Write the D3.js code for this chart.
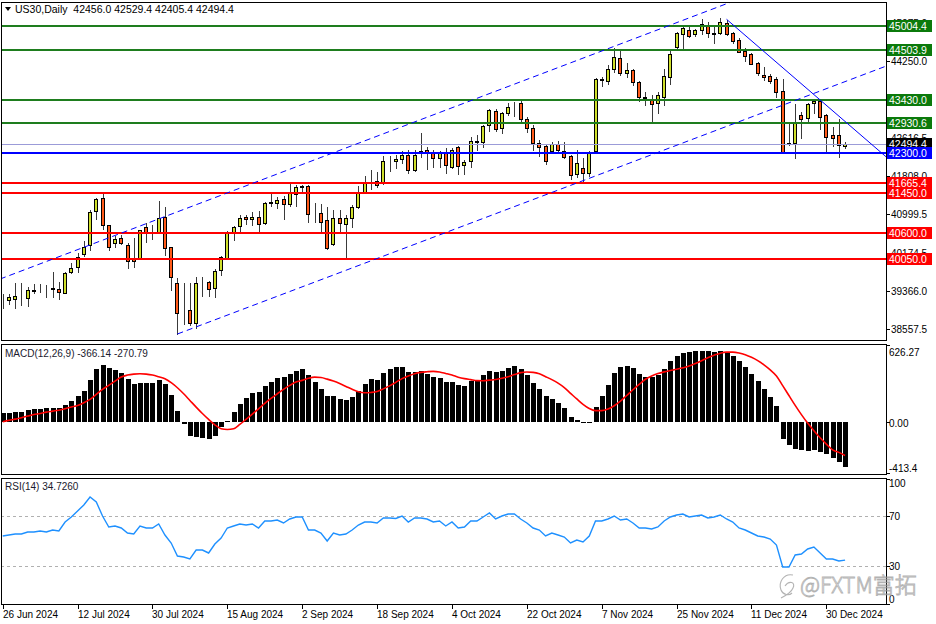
<!DOCTYPE html>
<html><head><meta charset="utf-8">
<script src="https://cdn.jsdelivr.net/npm/d3@7"></script>
<style>body{margin:0;background:#fff;}svg{display:block;font-family:"Liberation Sans",Arial,sans-serif;}</style>
</head><body><svg id="c" width="936" height="624"></svg>
<script>
// ---------- DATA ----------
const titleText = "US30,Daily  42456.0 42529.4 42405.4 42494.4";
const opens = [39180,39169,39190,39211,39211,39371,39393,39397,39424,39403,
39318,39765,39872,40149,40340,41065,41341,40766,40383,40489,
40340,40042,40063,40724,40639,40617,40937,40298,39531,38935,
38956,38679,39510,39552,39424,39808,40063,40617,40745,40937,
40894,40937,40809,41235,41235,41320,41214,41427,41586,41597,
41001,41022,40873,40362,40915,40788,40915,41150,41469,41672,
41704,41661,42130,42130,42172,42257,41938,42300,42364,42321,
42194,42300,42002,42428,42044,42130,42556,42534,42896,43195,
42832,43152,43312,43365,43024,42832,42513,42449,42343,42492,
42343,42236,41853,41980,41874,42343,43855,43834,44089,44324,
44004,44068,43812,43472,43450,43365,43493,43919,44558,44835,
44920,44835,44920,45005,44845,44856,45069,44856,44707,44473,
44409,44217,43961,43940,43876,43621,42502,42513,43109,43046,
43365,43408,43109,42683,42683,42456.0];
const highs = [39297,39297,39531,39531,39446,39510,39510,39488,39765,39552,
39765,39957,40170,40426,41086,41331,41448,40777,40532,40553,
40383,40489,40670,40809,40766,41278,41150,40308,39637,39531,
39531,39659,39659,39563,39829,40106,40628,40745,40979,40979,
41043,41065,41246,41448,41363,41384,41640,41618,41618,41608,
41235,41214,41150,41086,41086,40979,41192,41597,41810,41938,
41895,42236,42236,42257,42343,42364,42364,42726,42428,42364,
42343,42407,42407,42449,42151,42641,42683,42896,43227,43237,
43173,43365,43386,43408,43067,42896,42577,42492,42534,42556,
42534,42257,42364,42194,42343,43887,43919,44174,44537,44473,
44217,44079,43823,43599,43535,43599,44089,44494,44867,44984,
44984,44941,45154,45090,45026,45176,45133,44877,44750,44537,
44430,44238,44132,43983,43919,43876,42939,43344,43173,43365,
43450,43450,43131,42854,43024,42529.4];
const lows = [38998,39084,38998,39062,39041,39318,39339,39233,39233,39190,
39308,39744,39765,40106,40234,40894,40681,40234,40298,40362,
39850,39872,40053,40404,40468,40607,40127,39382,38445,38658,
38636,38572,39254,39254,39233,39701,40053,40447,40639,40788,
40766,40617,40788,41171,41128,40894,41171,41171,41469,40830,
40830,40596,40255,40340,40596,40085,40724,41128,41448,41533,
41576,41640,41917,41980,42087,41874,41917,42215,41959,42002,
42002,41874,41980,41853,41853,42002,42364,42428,42769,42769,
42726,43109,43088,42939,42747,42364,42236,42066,42300,42300,
42194,41746,41789,41704,41810,42321,43727,43770,44025,43961,
43919,43748,43408,43322,42939,43152,43322,43770,44537,44537,
44771,44792,44835,44771,44643,44845,44814,44643,44441,44260,
44185,43961,43855,43791,43493,42311,42470,42194,42620,42939,
43152,42811,42321,42449,42215,42405.4];
const closes = [39190,39233,39254,39222,39382,39388,39403,39410,39393,39339,
39744,39850,40085,40298,41043,41320,40766,40298,40468,40383,
40000,40000,40660,40617,40649,40915,40276,39659,38892,38945,
38679,39531,39520,39403,39787,40085,40617,40724,40915,40894,
40937,40788,41235,41246,41299,41214,41448,41576,41597,41001,
41011,40830,40276,40915,40809,40915,41150,41448,41661,41682,
41618,42130,42140,42172,42257,41938,42257,42343,42321,42194,
42300,42044,42364,42023,42108,42556,42534,42875,43216,42811,
43152,43280,43322,43024,42832,42513,42428,42130,42492,42364,
42215,41831,42087,41874,42321,43876,43866,44089,44345,44004,
44068,43812,43493,43482,43344,43535,43940,44409,44856,44962,
44792,44920,45048,44856,44856,45090,44835,44686,44451,44366,
44196,44004,43919,43834,43599,42321,42513,42960,43024,43344,
43408,43067,42641,42620,42470,42494.4];

const macdMain = [70,76,81,84,95,103,108,116,116,116,
138,171,211,252,341,433,460,441,420,401,
347,311,320,320,320,338,306,219,89,-19,
-114,-119,-127,-138,-114,-38,5,81,144,198,
233,246,292,325,360,366,387,414,430,382,
325,268,211,211,187,179,203,252,309,349,
341,398,430,447,447,406,406,414,390,366,
357,325,325,300,292,333,341,382,414,406,
414,439,455,430,382,317,268,211,187,154,
114,41,16,-8,3,122,211,300,398,447,
455,439,390,366,366,382,430,496,536,560,
569,577,577,577,569,577,569,536,496,447,
390,333,268,203,130,-138,-187,-219,-227,-236,
-227,-244,-260,-292,-325,-366.14];
const macdSignal = [3,14,24,35,49,62,70,81,89,97,
108,122,135,157,184,225,266,298,333,366,
382,390,393,390,382,368,352,320,279,230,
176,122,70,22,-22,-54,-60,-54,-19,22,
65,108,152,192,230,266,298,325,339,356,
365,362,349,333,313,290,266,246,238,241,
249,270,294,323,353,375,393,404,409,412,
407,395,382,365,353,345,337,336,341,346,
356,369,386,402,407,404,392,369,345,316,
280,234,188,144,110,93,93,106,133,170,
216,263,307,348,375,394,408,419,429,441,
455,476,499,523,543,560,568,568,561,547,
526,499,465,424,375,296,216,136,61,-8,
-70,-127,-179,-226,-246,-270.79];
const rsiValues = [54,54.8,55.6,55.6,57.2,57.2,58,57.2,58.8,58,
65.2,69.2,74,78.8,85.2,81.2,70,61.2,62,60.4,
56.4,55.6,62,60.4,60.4,63.6,54.8,48.4,38,37.2,
35.6,42.8,42.8,40.4,47.6,52.4,60.4,62,63.6,62.8,
63.6,60.4,66,66,66.8,64.4,67.6,69.2,69.2,58.8,
58.8,56.4,50,56.4,54.8,55.6,58.8,62.8,65.2,65.2,
64.4,68.4,68.4,68,70,65.2,68.4,68.4,67.6,65.2,
66,62,65.2,60.4,61.2,66,66,69.2,72.4,67.6,
70,71.6,71.6,67.6,64.4,60.4,58.8,54,56.4,54.8,
53.2,48.4,50.8,49.2,54,66,66,67.6,70,66.8,
67.6,64.4,60.4,60.4,59.6,61.2,66,69.2,70.8,71.6,
69.2,70,70.8,68.4,69.2,70.8,67.6,65.2,60.4,58.8,
56.4,54,53.2,51.6,46.8,29.2,29.2,38.8,39.6,43.6,
45.2,40.4,35.6,35.6,34,34.726];

const dateLabels = ["26 Jun 2024","12 Jul 2024","30 Jul 2024","15 Aug 2024","2 Sep 2024","18 Sep 2024","4 Oct 2024","22 Oct 2024","7 Nov 2024","25 Nov 2024","11 Dec 2024","30 Dec 2024"];
const dateLabelBars = [0,12,24,36,48,60,72,84,96,108,120,132];
const priceTicks = [45075.0,44250.0,42616.5,41808.0,40999.5,40174.5,39366.0,38557.5];
const greenLevels = [45004.4,44503.9,43430.0,42930.6];
const blueLevels = [42300.0];
const redLevels = [41665.4,41450.0,40600.0,40050.0];
const bidPrice = 42494.4;
const channelUpper = [[0,39637],[100,44673]];
const channelLower = [[28,38445],[128,43469]];
const downTrend = [[116,45148],[130,43544]];
const macdTicks = ["626.27","0.00","-413.4"];
const macdTickVals = [626.27,0,-413.4];
const rsiTicks = [100,70,30,0];
const rsiLevels = [70,30];
const macdTitle = "MACD(12,26,9) -366.14 -270.79";
const rsiTitle = "RSI(14) 34.7260";

// ---------- LAYOUT ----------
const svg = d3.select("#c");
const axisX = 886;
const main = {top:2, bottom:340}, macdP = {top:344, bottom:474}, rsiP = {top:478, bottom:604};
const n = closes.length;
const x = d3.scaleLinear().domain([0, n-1]).range([2.7, 845.1]);
const yP = d3.scaleLinear().domain([38317, 45516]).range([340, 2]);
const yM = d3.scaleLinear().domain([-413.4, 626.27]).range([473, 345]);
const yR = d3.scaleLinear().domain([0, 100]).range([603.5, 478.5]);

const defs = svg.append("defs");
function clip(id, p){ defs.append("clipPath").attr("id", id).append("rect").attr("x",1).attr("y",p.top).attr("width",axisX-1).attr("height",p.bottom-p.top); }
clip("cm", main); clip("cmacd", macdP); clip("crsi", rsiP);

// ---------- MAIN PANEL ----------
const gM = svg.append("g").attr("clip-path","url(#cm)");
const idx = d3.range(n);
const cg = gM.append("g");
idx.forEach(i=>{
  const cx = Math.round(x(i));
  const o=opens[i], c=closes[i], h=highs[i], l=lows[i];
  const bull = c >= o;
  cg.append("line").attr("x1",cx+0.5).attr("x2",cx+0.5)
    .attr("y1",Math.round(yP(h))).attr("y2",Math.round(yP(l))+1)
    .attr("stroke", "#3a3a3a").attr("stroke-width",1);
  const yt = Math.round(yP(Math.max(o,c))), yb = Math.round(yP(Math.min(o,c)));
  cg.append("rect").attr("x",cx-1.5).attr("width",3)
    .attr("y",yt+0.5).attr("height",Math.max(0,yb-yt))
    .attr("fill", bull ? "#cfdf2c" : "#ff5a19")
    .attr("stroke","#000").attr("stroke-width",1);
});

function hline(g, v, color, w){
  const y = Math.round(yP(v)) + (w%2 ? 0.5 : 0);
  g.append("line").attr("x1",0).attr("x2",axisX).attr("y1",y).attr("y2",y).attr("stroke",color).attr("stroke-width",w);
}
greenLevels.forEach(v=>hline(gM,v,"#1e7d1e",2));
redLevels.forEach(v=>hline(gM,v,"#ff0000",2));
hline(gM,bidPrice,"#9b9bd8",1);
blueLevels.forEach(v=>hline(gM,v,"#0000ff",2));

function ray(g, pts, dash, startLeft){
  const [[b1,p1],[b2,p2]] = pts;
  const slope = (p2-p1)/(b2-b1);
  const bStart = startLeft ? x.invert(0) : b1;
  const bEnd = x.invert(axisX);
  g.append("line")
    .attr("x1",x(bStart)).attr("y1",yP(p1+slope*(bStart-b1)))
    .attr("x2",x(bEnd)).attr("y2",yP(p1+slope*(bEnd-b1)))
    .attr("stroke","#0000ff").attr("stroke-width",1)
    .attr("stroke-dasharray",dash||null);
}
ray(gM, channelUpper, "6,4", true);
ray(gM, channelLower, "6,4", false);
ray(gM, downTrend, null, false);

// ---------- MACD PANEL ----------
const gD = svg.append("g").attr("clip-path","url(#cmacd)");
idx.forEach(i=>{
  const cx = Math.round(x(i));
  const v = macdMain[i];
  const y0 = Math.round(yM(0)), y1 = Math.round(yM(v));
  gD.append("rect").attr("x",cx-2).attr("width",5)
    .attr("y",Math.min(y0,y1)).attr("height",Math.max(1,Math.abs(y1-y0)))
    .attr("fill","#000");
});
gD.append("path").datum(macdSignal)
  .attr("d", d3.line().x((d,i)=>x(i)).y(d=>yM(d)).curve(d3.curveMonotoneX))
  .attr("fill","none").attr("stroke","#ff0000").attr("stroke-width",1.6);

// ---------- RSI PANEL ----------
const gR = svg.append("g").attr("clip-path","url(#crsi)");
rsiLevels.forEach(v=>{
  const y = Math.round(yR(v))+0.5;
  gR.append("line").attr("x1",1).attr("x2",axisX).attr("y1",y).attr("y2",y)
    .attr("stroke","#b0b0b0").attr("stroke-dasharray","3,3");
});
gR.append("path").datum(rsiValues)
  .attr("d", d3.line().x((d,i)=>x(i)).y(d=>yR(d)))
  .attr("fill","none").attr("stroke","#1e90ff").attr("stroke-width",1.4);

// ---------- FRAMES ----------
[main, macdP, rsiP].forEach(p=>{
  svg.append("rect").attr("x",1.5).attr("y",p.top+0.5).attr("width",axisX-1).attr("height",p.bottom-p.top)
    .attr("fill","none").attr("stroke","#000").attr("stroke-width",1);
});

// ---------- AXES ----------
const axG = svg.append("g").attr("font-size",10).attr("fill","#000");
priceTicks.forEach(v=>{
  const y = Math.round(yP(v));
  axG.append("line").attr("x1",axisX).attr("x2",axisX+4).attr("y1",y+0.5).attr("y2",y+0.5).attr("stroke","#000");
  axG.append("text").attr("x",891).attr("y",y+4).text(v.toFixed(1));
});
function boxLabel(v, fill){
  const y = yP(v);
  svg.append("rect").attr("x",887).attr("y",Math.round(y)-6).attr("width",45).attr("height",12).attr("fill",fill);
  svg.append("text").attr("x",889).attr("y",Math.round(y)+4).attr("font-size",10.5).attr("fill","#fff").text(v.toFixed(1));
}
greenLevels.forEach(v=>boxLabel(v,"#0b7a0b"));
redLevels.forEach(v=>boxLabel(v,"#ff0000"));
boxLabel(bidPrice,"#000");
blueLevels.forEach(v=>boxLabel(v,"#0000ff"));

// MACD axis
const macdLabelY = [352, 423, 468];
macdTickVals.forEach((v,i)=>{
  const y = Math.round(yM(v));
  axG.append("line").attr("x1",axisX).attr("x2",axisX+4).attr("y1",y+0.5).attr("y2",y+0.5).attr("stroke","#000");
});
macdTicks.forEach((t,i)=>{
  axG.append("text").attr("x",889).attr("y",macdLabelY[i]+4).text(t);
});
// RSI axis
const rsiLabelY = [483, 516, 566, 599];
rsiTicks.forEach((v,i)=>{
  const y = Math.round(yR(v));
  axG.append("line").attr("x1",axisX).attr("x2",axisX+4).attr("y1",y+0.5).attr("y2",y+0.5).attr("stroke","#000");
  axG.append("text").attr("x",889).attr("y",rsiLabelY[i]+4).text(String(v));
});

// Date axis
dateLabelBars.forEach((b,i)=>{
  const cx = Math.round(x(b));
  axG.append("line").attr("x1",cx+0.5).attr("x2",cx+0.5).attr("y1",604).attr("y2",609).attr("stroke","#000");
  axG.append("text").attr("x",cx).attr("y",618).text(dateLabels[i]);
});

// ---------- TITLES ----------
svg.append("path").attr("d","M5,7 L11,7 L8,11 Z").attr("fill","#000");
svg.append("text").attr("x",15).attr("y",13).attr("font-size",10.5).attr("fill","#000").attr("xml:space","preserve").text(titleText);
svg.append("text").attr("x",5).attr("y",357).attr("font-size",10).attr("fill","#1a1a2e").text(macdTitle);
svg.append("text").attr("x",5).attr("y",490).attr("font-size",10).attr("fill","#1a1a2e").text(rsiTitle);

// ---------- WATERMARK ----------
const wm = svg.append("g").attr("opacity",0.75);
wm.append("path").attr("d","M793,575 C784,573 778,582 781,590 C783,595 789,596 792,593 M785,586 C789,580 796,582 793,588 C791,593 785,596 781,598")
  .attr("fill","none").attr("stroke","#9a9a9a").attr("stroke-width",1.1);
wm.append("text").attr("x",800).attr("y",593).attr("font-size",22)
  .attr("font-family","'Noto Sans CJK SC','DejaVu Sans',sans-serif").attr("font-weight",300)
  .attr("fill","#f4f4f4").attr("stroke","#999").attr("stroke-width",0.8)
  .text("@FXTM富拓");
</script></body></html>
